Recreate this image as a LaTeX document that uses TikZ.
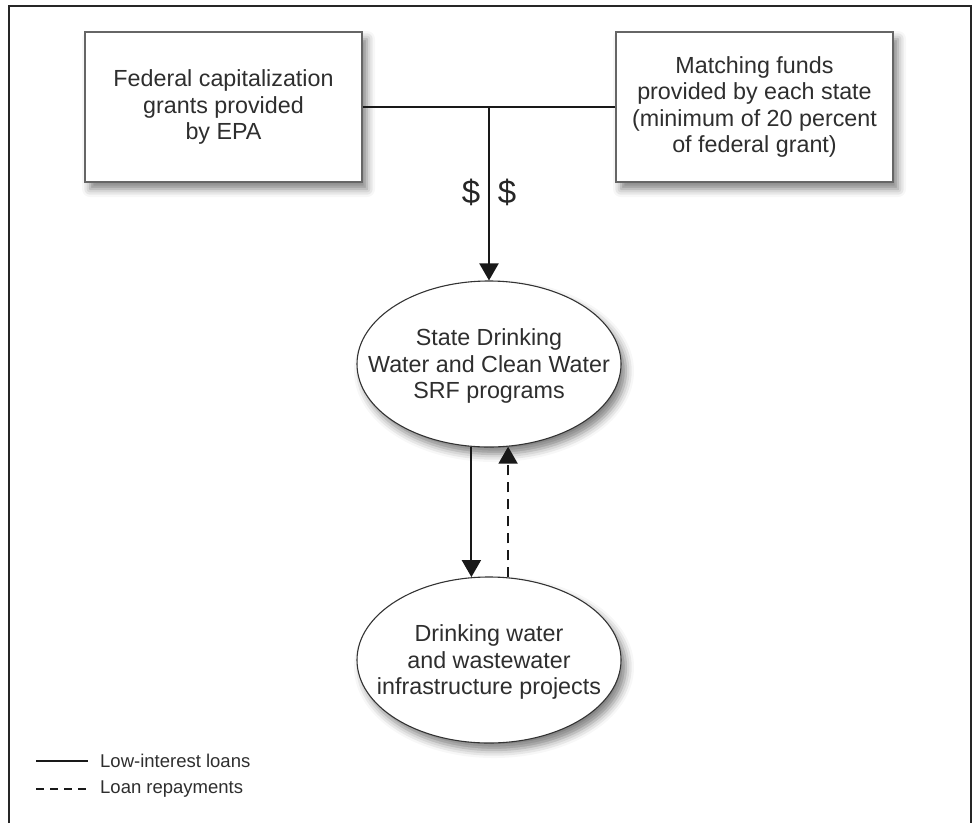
\documentclass[tikz,border=0pt]{standalone}
\usepackage{fontspec}
\setmainfont{Liberation Sans}
\usetikzlibrary{arrows.meta,shapes.geometric,shadows.blur}
\begin{document}
\begin{tikzpicture}[x=1pt,y=-1pt,
  txt/.style={font=\fontsize{23.3}{26.5}\selectfont, text=black!82, align=center},
  shad/.style={blur shadow={shadow xshift=5pt, shadow yshift=-7pt, shadow blur radius=8pt, shadow opacity=50}},
  box/.style={txt, draw=black!60, line width=1.4pt, fill=white, minimum width=277pt, minimum height=150pt, inner sep=0pt, shad},
  oval/.style={ellipse, draw=black!80, line width=1.1pt, fill=white, minimum width=264pt, minimum height=166pt, inner sep=0pt, shad},
  conn/.style={draw=black!90, line width=2pt},
  arr/.style={conn, -{Triangle[length=17pt,width=19pt]}},
  darr/.style={arr, dash pattern=on 10pt off 7pt},
  dollar/.style={font=\fontsize{33}{33}\selectfont, text=black!85},
  legtxt/.style={font=\fontsize{18.5}{20}\selectfont, text=black!82, anchor=west, inner sep=0pt},
  frame/.style={draw=black!85, line width=2pt}
]
\useasboundingbox (0,0) rectangle (975,823);
\draw[frame] (9,823) -- (9,6) -- (971,6) -- (971,823);

\node[box] (fed) at (223.5,107) {Federal capitalization\\grants provided\\by EPA};
\node[box] (match) at (754.5,107) {Matching funds\\provided by each state\\(minimum of 20 percent\\of federal grant)};
\node[oval] (srf) at (489,364) {};
\node[txt] (srft) at (489,366) {State Drinking\\Water and Clean Water\\SRF programs};
\node[oval] (proj) at (489,660) {};
\node[txt] (projt) at (489,662) {Drinking water\\and wastewater\\infrastructure projects};

\coordinate (junc) at (489,107);
\draw[conn] (fed.east) -- (match.west);
\draw[arr] (junc) -- (srf.north);
\node[dollar] (d1) at (471,192) {\$};
\node[dollar] (d2) at (507,192) {\$};

\draw[arr] (srf.258.3) -- (srf.258.3 |- proj.101.7);
\draw[darr] (proj.77.6) -- (proj.77.6 |- srf.-77.6);

\coordinate (l1a) at (36,761);
\coordinate (l1b) at (88,761);
\coordinate (l2a) at (36,789);
\coordinate (l2b) at (88,789);
\draw[conn] (l1a) -- (l1b);
\draw[conn, dash pattern=on 8pt off 6pt] (l2a) -- (l2b);
\node[legtxt] (lt1) at (100,761) {Low-interest loans};
\node[legtxt] (lt2) at (100,789) {Loan repayments};
\end{tikzpicture}
\end{document}
